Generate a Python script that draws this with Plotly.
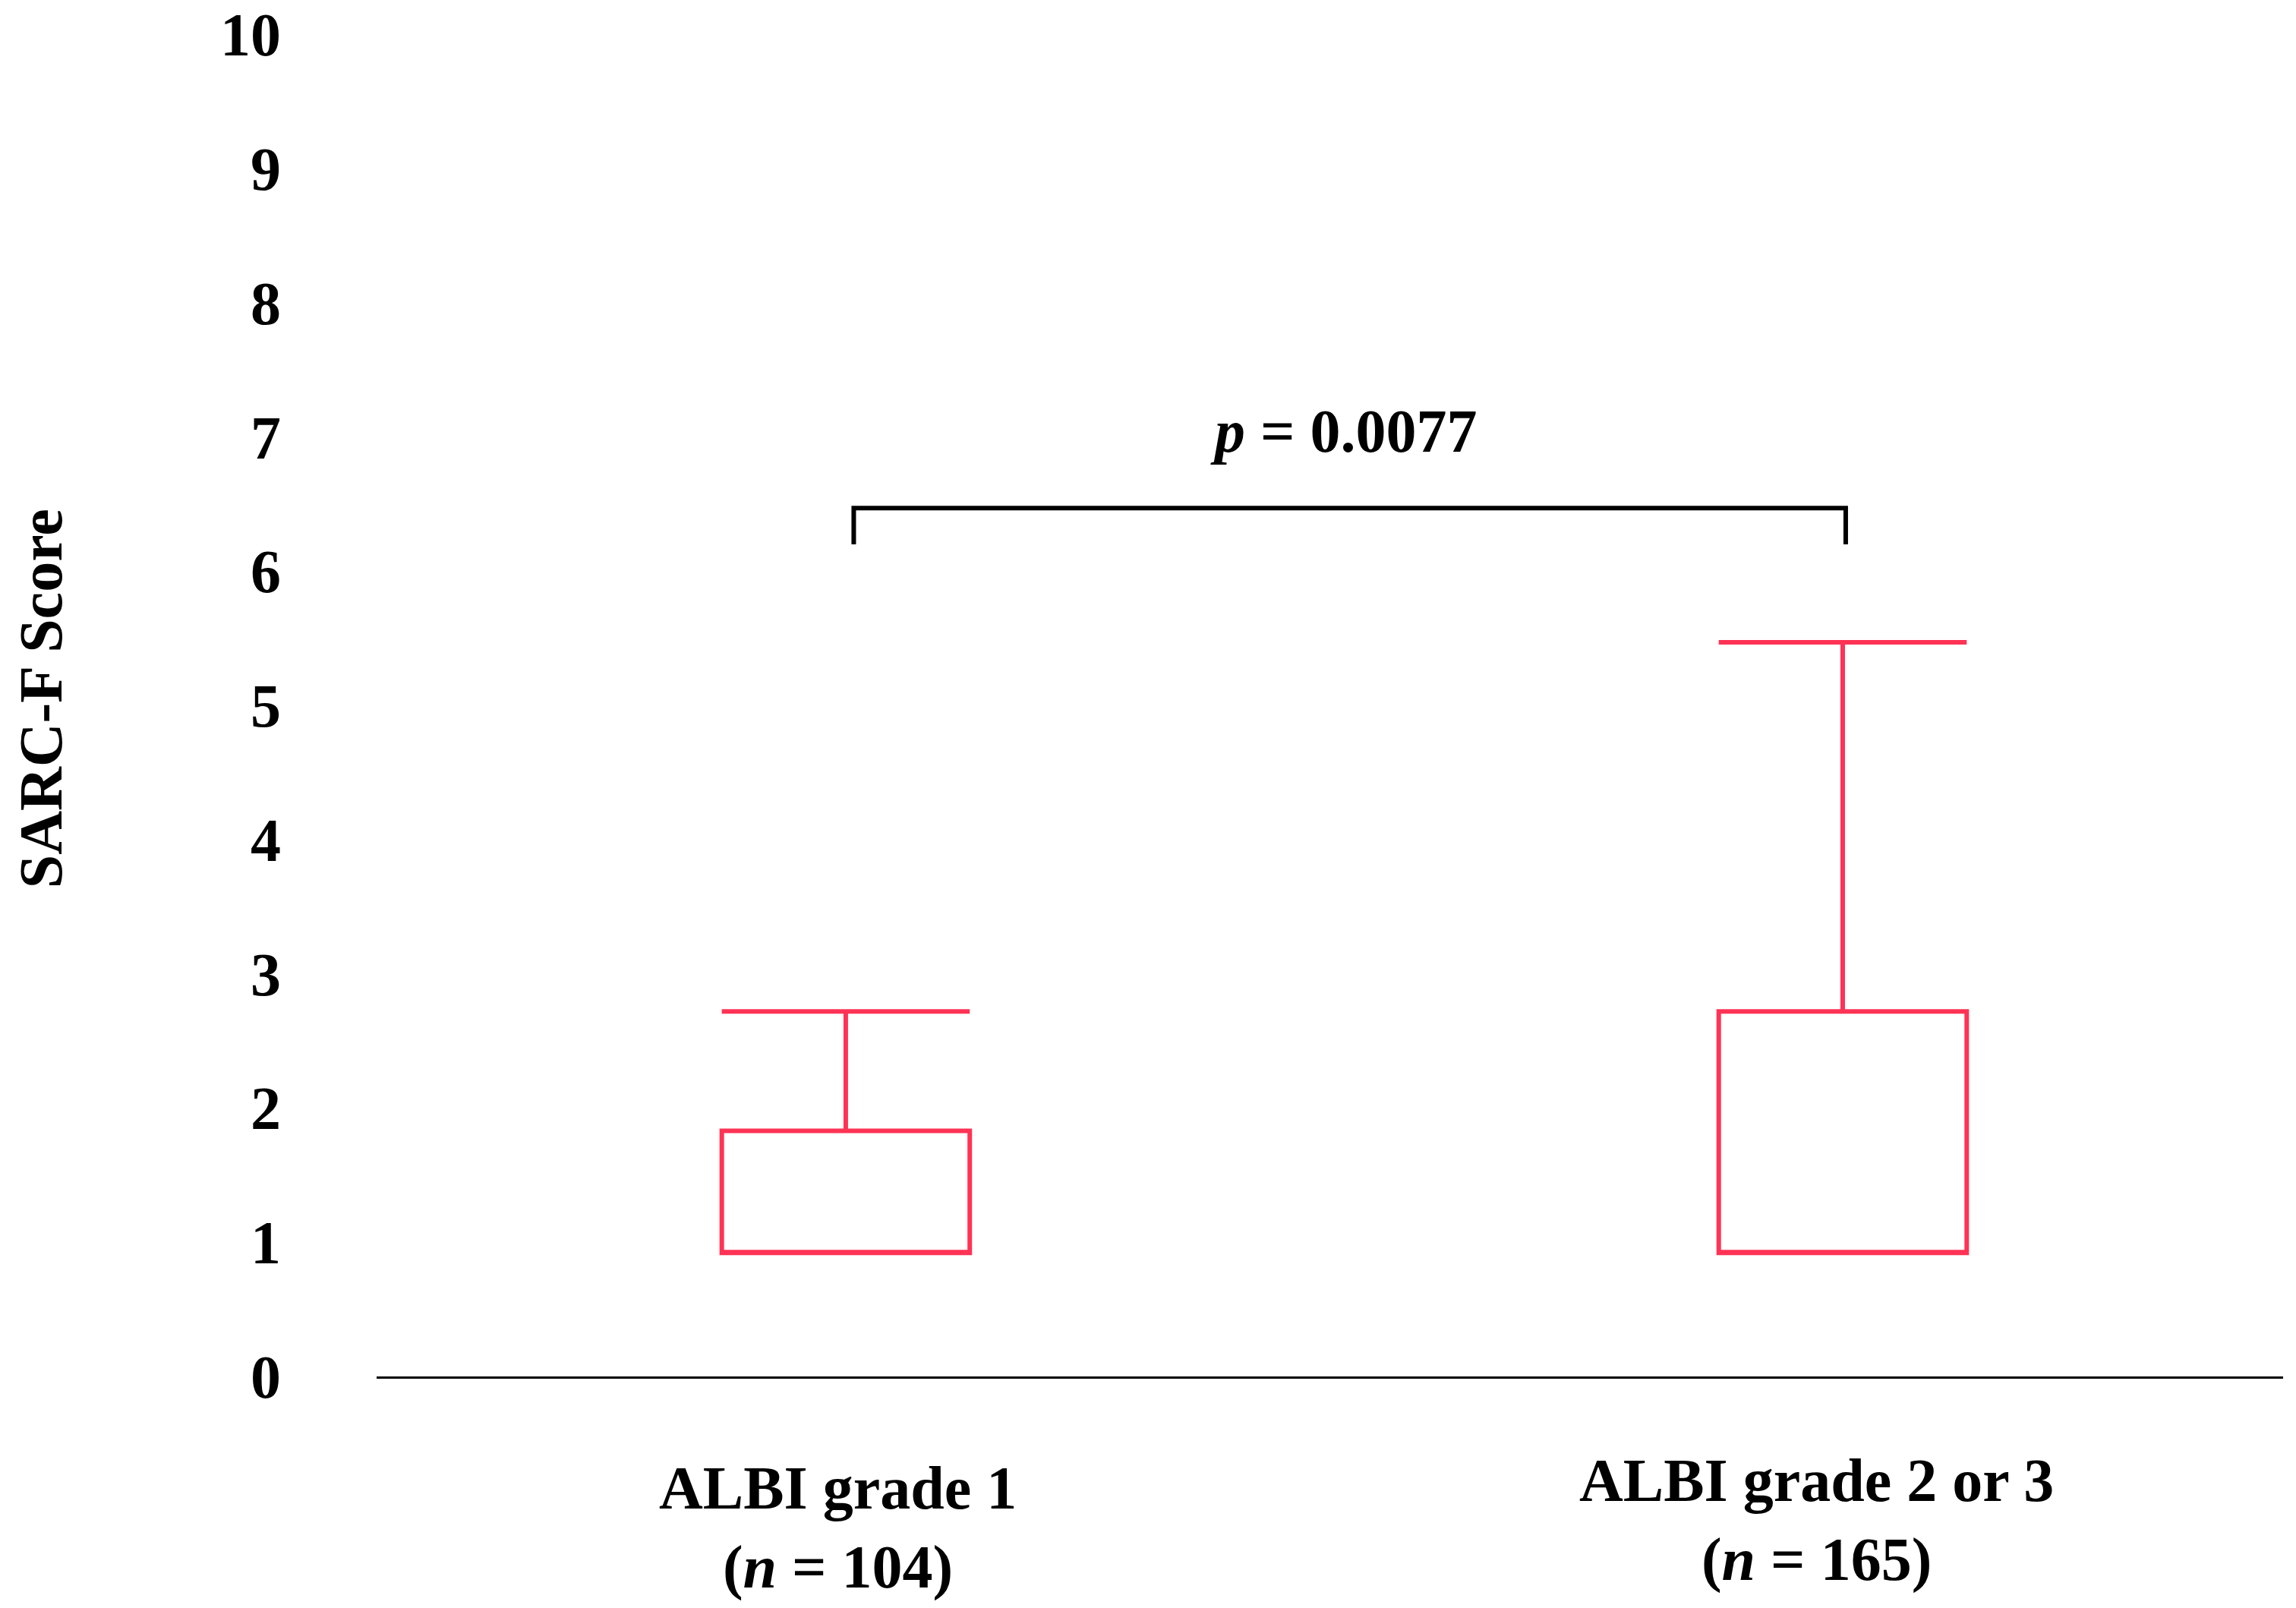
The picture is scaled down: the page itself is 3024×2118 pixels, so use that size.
import plotly.graph_objects as go

# groups and box statistics
groups = ["ALBI grade 1<br>(<i>n</i> = 104)", "ALBI grade 2 or 3<br>(<i>n</i> = 165)"]
group_pos = [0, 1]
q1 = [0.92, 0.92]
median = [0.92, 0.92]
q3 = [1.83, 2.72]
lower = [0.92, 0.92]
upper = [2.72, 5.47]

p_text = "<i>p</i> = 0.0077"
bracket_top = 6.47
bracket_foot = 6.20
p_y = 7.04

y_ticks = list(range(0, 11))

RED = "#ff3355"
FONT = "Liberation Serif, Times New Roman, serif"

fig = go.Figure()

fig.add_trace(go.Box(
    x=group_pos,
    q1=q1,
    median=median,
    q3=q3,
    lowerfence=lower,
    upperfence=upper,
    width=0.2487,
    whiskerwidth=1,
    boxpoints=False,
    fillcolor="rgba(0,0,0,0)",
    line=dict(color=RED, width=6),
    hoverinfo="skip",
    showlegend=False,
))

# significance bracket between the two groups
fig.add_trace(go.Scatter(
    x=[group_pos[0] + 0.008, group_pos[0] + 0.008, group_pos[1] + 0.003, group_pos[1] + 0.003],
    y=[bracket_foot, bracket_top, bracket_top, bracket_foot],
    mode="lines",
    line=dict(color="black", width=6),
    hoverinfo="skip",
    showlegend=False,
))

fig.add_annotation(
    x=(group_pos[0] + group_pos[1]) / 2, y=p_y, xref="x", yref="y",
    text="<b>" + p_text + "</b>", showarrow=False,
    font=dict(family=FONT, size=80, color="black"),
)

label_x = [-0.008, 0.974]
label_y = [-0.113, -0.107]
for g, lx, ly in zip(groups, label_x, label_y):
    fig.add_annotation(
        x=lx, y=ly, xref="x", yref="paper", yanchor="middle",
        text="<b>" + g + "</b>", showarrow=False,
        font=dict(family=FONT, size=80, color="black"),
    )

# y axis title
fig.add_annotation(
    x=-0.176, y=0.505, xref="paper", yref="paper",
    xanchor="center", yanchor="middle", textangle=-90,
    text="<b>SARC-F Score</b>", showarrow=False,
    font=dict(family=FONT, size=80, color="black"),
)

fig.update_xaxes(
    range=[-0.4706, 1.4417],
    showticklabels=False,
    showgrid=False,
    zeroline=False,
    showline=True,
    linecolor="black",
    linewidth=3,
    ticks="",
    automargin=False,
)
fig.update_yaxes(
    range=[0, 10.001],
    tickvals=y_ticks,
    tickfont=dict(family=FONT, size=80, color="black", weight="bold"),
    ticklabeloverflow="allow",
    showgrid=False,
    zeroline=False,
    showline=False,
    ticks="",
    ticklabelstandoff=125,
    automargin=False,
)

fig.update_layout(
    width=3024,
    height=2118,
    margin=dict(l=488, r=25, t=37, b=313),
    paper_bgcolor="white",
    plot_bgcolor="white",
)

fig.write_html("out.html")
